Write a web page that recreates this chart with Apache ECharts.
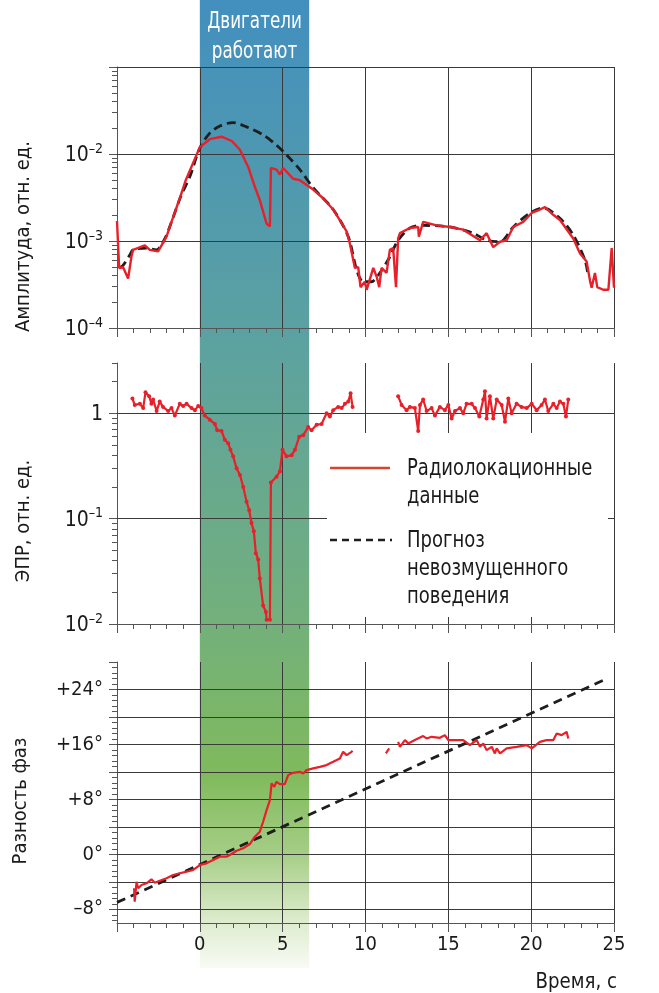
<!DOCTYPE html>
<html>
<head>
<meta charset="utf-8">
<script src="https://cdn.jsdelivr.net/npm/echarts@6/dist/echarts.min.js"></script>
<style>
html,body{margin:0;padding:0;background:#fff}
#main{width:659px;height:993px}
</style>
</head>
<body>
<div id="main"></div>
<script>
var FONT = "'Liberation Sans Narrow', 'DejaVu Sans Condensed', sans-serif";

// амплитуда (радар), время в с
var ampTime = [-5.00,-4.87,-4.63,-4.33,-4.13,-4.03,-3.32,-3.02,-2.52,-2.31,-2.01,-1.71,-1.21,-0.85,0,0.60,1.31,1.93,2.42,2.92,3.32,3.62,4.03,4.23,4.29,4.63,4.83,5.03,5.63,6.04,6.84,7.44,8.05,8.45,8.86,9.06,9.36,9.56,9.70,9.96,10.07,10.47,10.67,10.83,10.97,11.27,11.47,11.67,11.84,11.97,12.08,12.68,13.18,13.22,13.48,14.29,15.10,15.90,16.91,17.31,17.71,18.12,18.52,18.92,19.52,20.03,20.53,20.83,21.33,21.74,22.54,22.95,23.35,23.55,23.65,23.85,23.99,24.35,24.66,24.86,25.0];
var ampValue = [1.7e-3,4.9e-4,5.0e-4,3.7e-4,6.6e-4,7.9e-4,8.9e-4,7.9e-4,7.6e-4,8.9e-4,1.12e-3,1.66e-3,3.1e-3,5.0e-3,1.20e-2,1.48e-2,1.58e-2,1.41e-2,1.12e-2,7.1e-3,4.2e-3,2.95e-3,1.58e-3,1.48e-3,6.9e-3,6.6e-3,5.8e-3,6.9e-3,5.2e-3,5.0e-3,3.9e-3,3.1e-3,2.3e-3,1.74e-3,1.29e-3,9.3e-4,4.9e-4,5.0e-4,2.95e-4,3.4e-4,2.75e-4,4.9e-4,3.9e-4,2.95e-4,4.9e-4,4.3e-4,7.9e-4,8.3e-4,2.95e-4,1.07e-3,1.23e-3,1.41e-3,1.45e-3,1.12e-3,1.66e-3,1.51e-3,1.45e-3,1.35e-3,1.02e-3,1.23e-3,8.5e-4,9.8e-4,1.02e-3,1.45e-3,1.66e-3,2.1e-3,2.3e-3,2.45e-3,2.0e-3,1.74e-3,1.07e-3,7.2e-4,5.8e-4,3.5e-4,2.9e-4,4.3e-4,2.95e-4,2.75e-4,2.75e-4,8.3e-4,2.9e-4];

// прогноз амплитуды
var ampForecastTime = [-4.85,-4.65,-4.23,-4.03,-3.22,-2.62,-2.11,-1.71,-1.11,-0.60,0,0.60,1.21,2.01,2.82,3.82,4.63,5.23,6.04,6.84,8.05,8.96,9.46,9.86,10.35,10.87,11.47,11.97,12.68,13.48,15.10,16.50,17.31,18.12,18.92,19.93,20.73,21.74,22.54,23.25,23.45];
var ampForecastValue = [4.9e-4,5.2e-4,6.9e-4,7.9e-4,8.3e-4,7.9e-4,1.07e-3,1.66e-3,3.4e-3,5.5e-3,1.17e-2,1.74e-2,2.1e-2,2.3e-2,2.05e-2,1.66e-2,1.26e-2,9.8e-3,6.6e-3,4.1e-3,2.3e-3,1.12e-3,4.7e-4,3.4e-4,3.4e-4,4.3e-4,6.6e-4,1.02e-3,1.41e-3,1.51e-3,1.45e-3,1.23e-3,1.02e-3,9.8e-4,1.45e-3,2.1e-3,2.4e-3,1.82e-3,1.17e-3,6.0e-4,3.9e-4];

// ЭПР, два участка
var rcsTime1 = [-4.07,-3.93,-3.62,-3.42,-3.28,-3.06,-2.92,-2.82,-2.61,-2.42,-2.22,-1.91,-1.71,-1.51,-1.21,-1.01,-0.80,-0.50,-0.30,-0.10,0.10,0.30,0.60,0.91,1.05,1.31,1.51,1.71,1.85,2.01,2.22,2.42,2.62,2.82,2.98,3.12,3.26,3.38,3.52,3.62,3.82,3.99,4.03,4.23,4.29,4.63,4.83,4.99,5.23,5.54,5.74,6.00,6.24,6.54,6.74,7.05,7.35,7.65,7.85,8.05,8.35,8.56,8.76,8.96,9.10,9.22];
var rcsValue1 = [1.38,1.20,1.23,1.12,1.58,1.45,1.23,1.35,1.05,1.29,1.15,1.05,1.12,0.95,1.23,1.17,1.23,1.12,1.07,1.17,1.12,0.95,0.87,0.79,0.69,0.68,0.56,0.52,0.45,0.39,0.30,0.26,0.20,0.145,0.12,0.091,0.076,0.047,0.041,0.027,0.015,0.013,0.011,0.011,0.22,0.25,0.28,0.45,0.39,0.40,0.45,0.60,0.62,0.74,0.69,0.78,0.79,1.00,0.93,1.07,1.15,1.12,1.23,1.29,1.55,1.15];
var rcsTime2 = [11.97,12.18,12.48,12.68,12.98,13.18,13.29,13.48,13.69,13.99,14.19,14.49,14.79,15.00,15.20,15.40,15.70,15.90,16.10,16.41,16.61,16.87,17.11,17.21,17.31,17.51,17.71,17.92,18.22,18.42,18.62,18.82,19.12,19.42,19.73,20.03,20.33,20.63,20.83,21.03,21.34,21.54,21.74,21.94,22.10,22.24];
var rcsValue2 = [1.45,1.20,1.07,1.15,1.12,0.68,1.20,1.35,1.05,1.12,0.95,1.15,1.07,1.20,0.89,1.05,1.12,1.00,1.23,1.23,1.12,0.93,1.35,1.62,0.89,1.45,0.89,1.35,1.20,0.83,1.38,1.00,1.23,1.15,1.12,1.23,1.07,1.20,1.35,1.05,1.23,1.12,1.29,1.23,0.93,1.35];

// разность фаз, градусы
var phaseTime1 = [-3.97,-3.93,-3.82,-3.72,-3.52,-3.22,-2.92,-2.72,-2.42,-2.01,-1.61,-1.21,-0.80,-0.40,0,0.40,0.80,1.21,1.61,1.81,2.22,2.62,3.02,3.32,3.62,3.82,4.03,4.23,4.33,4.49,4.63,4.83,5.13,5.33,5.63,6.04,6.24,6.44,6.84,7.25,7.65,8.05,8.45,8.65,8.86,9.16,9.22];
var phaseValue1 = [-4.95,-6.9,-4.0,-4.95,-4.47,-4.22,-3.64,-4.13,-3.84,-3.49,-3.01,-2.76,-2.53,-2.28,-1.56,-1.31,-0.83,-0.35,-0.35,-0.10,0.52,0.87,1.50,2.56,3.29,4.74,6.44,7.90,10.33,9.83,10.56,10.23,10.23,11.53,11.87,12.01,11.78,12.26,12.51,12.74,12.99,13.47,13.96,14.92,14.44,14.92,15.07];
var phaseTime2 = [11.23,11.43];
var phaseValue2 = [14.69,15.42];
var phaseTime3 = [11.97,12.08,12.38,12.58,12.98,13.48,13.69,13.99,14.49,14.79,15.00,15.40,15.90,16.30,16.71,16.91,17.11,17.31,17.62,17.81,17.92,18.12,18.52,19.12,19.73,20.03,20.53,20.93,21.34,21.54,21.84,22.14,22.24];
var phaseValue3 = [16.38,15.65,16.63,16.15,16.63,17.21,16.87,17.11,16.96,17.35,16.63,16.63,16.63,15.90,16.63,15.65,16.15,15.17,15.65,14.69,15.42,14.69,15.42,15.65,15.90,15.42,16.38,16.63,16.63,17.60,17.35,17.83,16.87];
var phaseForecastTime = [-5, 24.6];
var phaseForecastValue = [-7.0, 25.6];

// оси
var xTickLabels = [0, 5, 10, 15, 20, 25];
var ampDecades = [-4, -3, -2, -1];
var ampLabelDecades = [-4, -3, -2];
var ampGridDecades = [-3, -2, -1];
var rcsDecades = [-2, -1, 0];
var rcsGridDecades = [-1, 0];
var phaseLabels = [-8, 0, 8, 16, 24];
var phaseGridLines = [-8, -4, 0, 4, 8, 12, 16, 20, 24];
var engineOn = [0, 6.6];

var RED = '#e8202a';
var DARK = '#1e1e1e';
var GRIDC = '#3a3a3a';
var AXISC = '#555';
var TXT = '#1a1a1a';

function zip(t, v, f) {
    var out = [];
    for (var i = 0; i < t.length; i++) out.push([t[i], f ? f(v[i]) : v[i]]);
    return out;
}
function lg(v) { return Math.log10(v); }

function logMinor(decades) {
    var arr = [];
    decades.forEach(function (n) {
        for (var k = 2; k <= 9; k++) arr.push(n + Math.log10(k));
    });
    return arr;
}
var ampMinor = logMinor([-4, -3, -2]);
var rcsMinor = logMinor([-2, -1]).concat([Math.log10(2), Math.log10(3)]);
var phaseMinor = [];
for (var m = -9.6; m <= 28.01; m += 0.8) phaseMinor.push(Math.round(m * 10) / 10);

function powLabel(v) {
    var n = Math.round(v);
    if (n === 0) return '{b|1}';
    return '{b|10}{s|–' + (-n) + '}';
}
function degLabel(v) {
    if (v > 0) return '+' + v + '°';
    if (v < 0) return '–' + (-v) + '°';
    return '0°';
}
var powRich = {
    b: { fontSize: 21, lineHeight: 24, verticalAlign: 'bottom', color: TXT, fontFamily: FONT },
    s: { fontSize: 14, lineHeight: 14, verticalAlign: 'top', color: TXT, fontFamily: FONT }
};

function gridMarks(values) {
    return {
        silent: true,
        symbol: ['none', 'none'],
        label: { show: false },
        emphasis: { disabled: true },
        lineStyle: { color: GRIDC, width: 1, type: 'solid' },
        data: values.map(function (v) { return { yAxis: v }; })
    };
}

function xAxisFor(gridIndex, withLabels) {
    return {
        type: 'value', gridIndex: gridIndex, min: -5, max: 25, interval: 5,
        axisLine: { show: true, onZero: false, lineStyle: { color: AXISC, width: 1 } },
        axisTick: { show: true, length: 9, lineStyle: { color: AXISC } },
        minorTick: { show: true, splitNumber: 5, length: 5, lineStyle: { color: AXISC } },
        splitLine: { show: true, lineStyle: { color: GRIDC, width: 1 } },
        axisLabel: withLabels ? {
            show: true, customValues: xTickLabels, fontSize: 20, color: TXT, margin: 12, fontFamily: FONT
        } : { show: false }
    };
}

function minorY(gridIndex, min, max, values) {
    return {
        type: 'value', gridIndex: gridIndex, min: min, max: max, position: 'left', offset: 0,
        axisLine: { show: false, onZero: false },
        axisTick: { show: true, length: 5, customValues: values, lineStyle: { color: AXISC } },
        axisLabel: { show: false },
        splitLine: { show: false }
    };
}

function nameStyle(shift) {
    // сдвиг подписи оси вниз (текст повёрнут)
    return { fontSize: 20, color: TXT, fontFamily: FONT, padding: [0, shift, 0, 0] };
}

var chart = echarts.init(document.getElementById('main'));
var option = {
    animation: false,
    textStyle: { fontFamily: FONT },
    grid: [
        { left: 117, right: 45, top: 67, height: 261 },
        { left: 117, right: 45, top: 363, height: 261 },
        { left: 117, right: 45, top: 662, height: 261 }
    ],
    xAxis: [xAxisFor(0, false), xAxisFor(1, false), xAxisFor(2, true)],
    yAxis: [
        {
            type: 'value', gridIndex: 0, min: -4, max: -1, position: 'left',
            axisLine: { show: true, onZero: false, lineStyle: { color: AXISC } },
            axisTick: { show: true, length: 8, customValues: ampDecades, lineStyle: { color: AXISC } },
            axisLabel: { customValues: ampLabelDecades, formatter: powLabel, rich: powRich, margin: 14 },
            splitLine: { show: false },
            name: 'Амплитуда, отн. ед.', nameLocation: 'middle', nameGap: 83,
            nameTextStyle: nameStyle(78)
        },
        minorY(0, -4, -1, ampMinor),
        {
            type: 'value', gridIndex: 1, min: -2, max: Math.log10(3), position: 'left',
            axisLine: { show: true, onZero: false, lineStyle: { color: AXISC } },
            axisTick: { show: true, length: 8, customValues: rcsDecades, lineStyle: { color: AXISC } },
            axisLabel: { customValues: rcsDecades, formatter: powLabel, rich: powRich, margin: 14 },
            splitLine: { show: false },
            name: 'ЭПР, отн. ед.', nameLocation: 'middle', nameGap: 83,
            nameTextStyle: nameStyle(55)
        },
        minorY(1, -2, Math.log10(3), rcsMinor),
        {
            type: 'value', gridIndex: 2, min: -10, max: 28, position: 'left',
            axisLine: { show: true, onZero: false, lineStyle: { color: AXISC } },
            axisTick: { show: true, length: 8, customValues: phaseGridLines.concat([28]), lineStyle: { color: AXISC } },
            axisLabel: { customValues: phaseLabels, formatter: degLabel, fontSize: 20, color: TXT, margin: 14, fontFamily: FONT },
            splitLine: { show: false },
            name: 'Разность фаз', nameLocation: 'middle', nameGap: 86,
            nameTextStyle: nameStyle(17)
        },
        minorY(2, -10, 28, phaseMinor)
    ],
    series: [
        {
            type: 'line', xAxisIndex: 0, yAxisIndex: 0, z: 8,
            data: zip(ampForecastTime, ampForecastValue, lg),
            symbol: 'none', smooth: 0.3,
            lineStyle: { color: DARK, width: 2.8, type: [9, 5] },
            markLine: gridMarks(ampGridDecades)
        },
        {
            type: 'line', xAxisIndex: 0, yAxisIndex: 0, z: 10,
            data: zip(ampTime, ampValue, lg),
            symbol: 'none',
            lineStyle: { color: RED, width: 2.4 }
        },
        {
            type: 'line', xAxisIndex: 1, yAxisIndex: 2, z: 10,
            data: zip(rcsTime1, rcsValue1, lg),
            symbol: 'circle', symbolSize: 4, showSymbol: true,
            itemStyle: { color: RED }, lineStyle: { color: RED, width: 2.2 },
            markLine: gridMarks(rcsGridDecades)
        },
        {
            type: 'line', xAxisIndex: 1, yAxisIndex: 2, z: 10,
            data: zip(rcsTime2, rcsValue2, lg),
            symbol: 'circle', symbolSize: 4, showSymbol: true,
            itemStyle: { color: RED }, lineStyle: { color: RED, width: 2.2 }
        },
        {
            type: 'line', xAxisIndex: 2, yAxisIndex: 4, z: 8,
            data: zip(phaseForecastTime, phaseForecastValue),
            symbol: 'none',
            lineStyle: { color: DARK, width: 2.8, type: [9, 6] },
            markLine: gridMarks(phaseGridLines)
        },
        {
            type: 'line', xAxisIndex: 2, yAxisIndex: 4, z: 10,
            data: zip(phaseTime1, phaseValue1), symbol: 'none',
            lineStyle: { color: RED, width: 2.2 }
        },
        {
            type: 'line', xAxisIndex: 2, yAxisIndex: 4, z: 10,
            data: zip(phaseTime2, phaseValue2), symbol: 'none',
            lineStyle: { color: RED, width: 2.2 }
        },
        {
            type: 'line', xAxisIndex: 2, yAxisIndex: 4, z: 10,
            data: zip(phaseTime3, phaseValue3), symbol: 'none',
            lineStyle: { color: RED, width: 2.2 }
        }
    ]
};
chart.setOption(option);

// полоса "двигатели работают" и легенда
var bx0 = chart.convertToPixel({ xAxisIndex: 0 }, engineOn[0]);
var bx1 = chart.convertToPixel({ xAxisIndex: 0 }, engineOn[1]);
var f = function (size) { return size + "px " + FONT; };

chart.setOption({
    graphic: [
        {
            type: 'rect', z: -10, silent: true,
            shape: { x: bx0, y: 0, width: bx1 - bx0, height: 968 },
            style: {
                fill: new echarts.graphic.LinearGradient(0, 0, 0, 1, [
                    { offset: 0, color: '#428fbf' },
                    { offset: 0.34, color: '#5ba1a2' },
                    { offset: 0.64, color: '#73b07c' },
                    { offset: 0.8, color: '#80ba5c' },
                    { offset: 0.88, color: '#a4cd84' },
                    { offset: 0.95, color: '#dcebcc' },
                    { offset: 1, color: '#f8fbf4' }
                ])
            }
        },
        {
            type: 'text', z: 20, silent: true,
            x: (bx0 + bx1) / 2, y: 7, scaleX: 0.81,
            style: {
                text: 'Двигатели\nработают', fill: '#ffffff', font: f(23),
                align: 'center', textAlign: 'center', verticalAlign: 'top', textVerticalAlign: 'top', lineHeight: 30
            }
        },
        {
            type: 'rect', z: 50, silent: true,
            shape: { x: 327, y: 433, width: 281, height: 184 },
            style: { fill: '#ffffff' }
        },
        {
            type: 'line', z: 51, silent: true,
            shape: { x1: 330, y1: 468, x2: 390, y2: 468 },
            style: { stroke: '#d6452c', lineWidth: 2.5 }
        },
        {
            type: 'line', z: 51, silent: true,
            shape: { x1: 330, y1: 540, x2: 392, y2: 540 },
            style: { stroke: DARK, lineWidth: 2.5, lineDash: [7, 5] }
        },
        {
            type: 'text', z: 51, silent: true, x: 407, y: 455, scaleX: 0.87,
            style: { text: 'Радиолокационные\nданные', fill: TXT, font: f(23), lineHeight: 28 }
        },
        {
            type: 'text', z: 51, silent: true, x: 407, y: 527, scaleX: 0.87,
            style: { text: 'Прогноз\nневозмущенного\nповедения', fill: TXT, font: f(23), lineHeight: 28 }
        },
        {
            type: 'text', silent: true, x: 617, y: 971, scaleX: 0.92,
            style: {
                text: 'Время, с', fill: TXT, font: f(22),
                align: 'right', textAlign: 'right', verticalAlign: 'top', textVerticalAlign: 'top'
            }
        }
    ]
});
</script>
</body>
</html>
